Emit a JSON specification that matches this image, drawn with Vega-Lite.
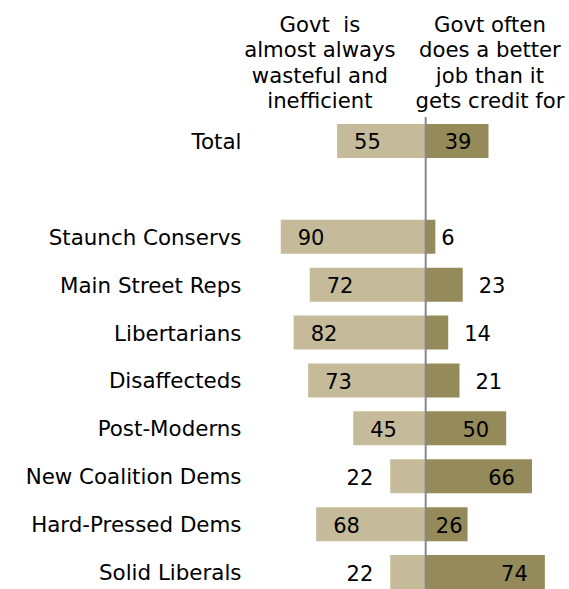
{
  "$schema": "https://vega.github.io/schema/vega-lite/v6.json",
  "width": 324,
  "height": 479,
  "autosize": {"type": "none"},
  "padding": {"left": 245, "top": 117, "right": 0, "bottom": 0},
  "background": "white",
  "config": {"view": {"stroke": null}, "font": "DejaVu Sans"},
  "datasets": {
    "groups": [
      {"group": "Total", "wasteful": 55, "credit": 39},
      {"group": "Staunch Conservs", "wasteful": 90, "credit": 6},
      {"group": "Main Street Reps", "wasteful": 72, "credit": 23},
      {"group": "Libertarians", "wasteful": 82, "credit": 14},
      {"group": "Disaffecteds", "wasteful": 73, "credit": 21},
      {"group": "Post-Moderns", "wasteful": 45, "credit": 50},
      {"group": "New Coalition Dems", "wasteful": 22, "credit": 66},
      {"group": "Hard-Pressed Dems", "wasteful": 68, "credit": 26},
      {"group": "Solid Liberals", "wasteful": 22, "credit": 74}
    ],
    "headers": [
      {"side": "wasteful", "pos": -65.7, "label": "Govt\u00a0 is\nalmost always\nwasteful and\ninefficient"},
      {"side": "credit", "pos": 39.9, "label": "Govt often\ndoes a better\njob than it\ngets credit for"}
    ]
  },
  "layer": [
    {
      "data": {"name": "groups"},
      "transform": [{"calculate": "-datum.wasteful", "as": "neg"}],
      "mark": {"type": "bar", "color": "#c5bb9a"},
      "encoding": {
        "y": {
          "field": "group", "type": "nominal", "title": null,
          "scale": {
            "domain": ["Total", " ", "Staunch Conservs", "Main Street Reps", "Libertarians", "Disaffecteds", "Post-Moderns", "New Coalition Dems", "Hard-Pressed Dems", "Solid Liberals"],
            "paddingInner": 0.29, "paddingOuter": 0.145
          },
          "axis": {"domain": false, "ticks": false, "grid": false, "labelPadding": 4, "labelOffset": 2, "labelFontSize": 21.4, "labelColor": "#000000", "labelFont": "DejaVu Sans", "labelLimit": 400}
        },
        "x": {"field": "neg", "type": "quantitative", "scale": {"domain": [-112.2, 89], "nice": false, "zero": false}, "axis": null},
        "x2": {"datum": 0}
      }
    },
    {
      "data": {"name": "groups"},
      "mark": {"type": "bar", "color": "#958a59"},
      "encoding": {
        "y": {"field": "group", "type": "nominal"},
        "x": {"field": "credit", "type": "quantitative"},
        "x2": {"datum": 0}
      }
    },
    {
      "data": {"values": [{}]},
      "mark": {"type": "rule", "color": "#888888", "strokeWidth": 2},
      "encoding": {"x": {"datum": 0}}
    },
    {
      "data": {"name": "groups"},
      "transform": [{"calculate": "-datum.wasteful", "as": "neg"}, {"filter": "datum.wasteful >= 30"}],
      "mark": {"type": "text", "align": "left", "baseline": "middle", "dx": 17, "dy": 2.5, "fontSize": 21, "color": "#000000"},
      "encoding": {
        "y": {"field": "group", "type": "nominal"},
        "x": {"field": "neg", "type": "quantitative"},
        "text": {"field": "wasteful", "type": "quantitative"}
      }
    },
    {
      "data": {"name": "groups"},
      "transform": [{"calculate": "-datum.wasteful", "as": "neg"}, {"filter": "datum.wasteful < 30"}],
      "mark": {"type": "text", "align": "right", "baseline": "middle", "dx": -17, "dy": 2.5, "fontSize": 21, "color": "#000000"},
      "encoding": {
        "y": {"field": "group", "type": "nominal"},
        "x": {"field": "neg", "type": "quantitative"},
        "text": {"field": "wasteful", "type": "quantitative"}
      }
    },
    {
      "data": {"name": "groups"},
      "transform": [{"filter": "datum.credit >= 30"}],
      "mark": {"type": "text", "align": "right", "baseline": "middle", "dx": -17, "dy": 2.5, "fontSize": 21, "color": "#000000"},
      "encoding": {
        "y": {"field": "group", "type": "nominal"},
        "x": {"field": "credit", "type": "quantitative"},
        "text": {"field": "credit", "type": "quantitative"}
      }
    },
    {
      "data": {"name": "groups"},
      "transform": [{"filter": "datum.credit >= 25 && datum.credit < 30"}],
      "mark": {"type": "text", "align": "right", "baseline": "middle", "dx": -5, "dy": 2.5, "fontSize": 21, "color": "#000000"},
      "encoding": {
        "y": {"field": "group", "type": "nominal"},
        "x": {"field": "credit", "type": "quantitative"},
        "text": {"field": "credit", "type": "quantitative"}
      }
    },
    {
      "data": {"name": "groups"},
      "transform": [{"filter": "datum.credit >= 10 && datum.credit < 25"}],
      "mark": {"type": "text", "align": "left", "baseline": "middle", "dx": 16, "dy": 2.5, "fontSize": 21, "color": "#000000"},
      "encoding": {
        "y": {"field": "group", "type": "nominal"},
        "x": {"field": "credit", "type": "quantitative"},
        "text": {"field": "credit", "type": "quantitative"}
      }
    },
    {
      "data": {"name": "groups"},
      "transform": [{"filter": "datum.credit < 10"}],
      "mark": {"type": "text", "align": "left", "baseline": "middle", "dx": 6, "dy": 2.5, "fontSize": 21, "color": "#000000"},
      "encoding": {
        "y": {"field": "group", "type": "nominal"},
        "x": {"field": "credit", "type": "quantitative"},
        "text": {"field": "credit", "type": "quantitative"}
      }
    },
    {
      "data": {"name": "headers"},
      "mark": {"type": "text", "align": "center", "baseline": "alphabetic", "lineBreak": "\n", "lineHeight": 25.5, "dy": -109.3, "fontSize": 21.2, "color": "#000000"},
      "encoding": {
        "y": {"datum": "Total", "type": "nominal"},
        "x": {"field": "pos", "type": "quantitative"},
        "text": {"field": "label", "type": "nominal"}
      }
    }
  ]
}
